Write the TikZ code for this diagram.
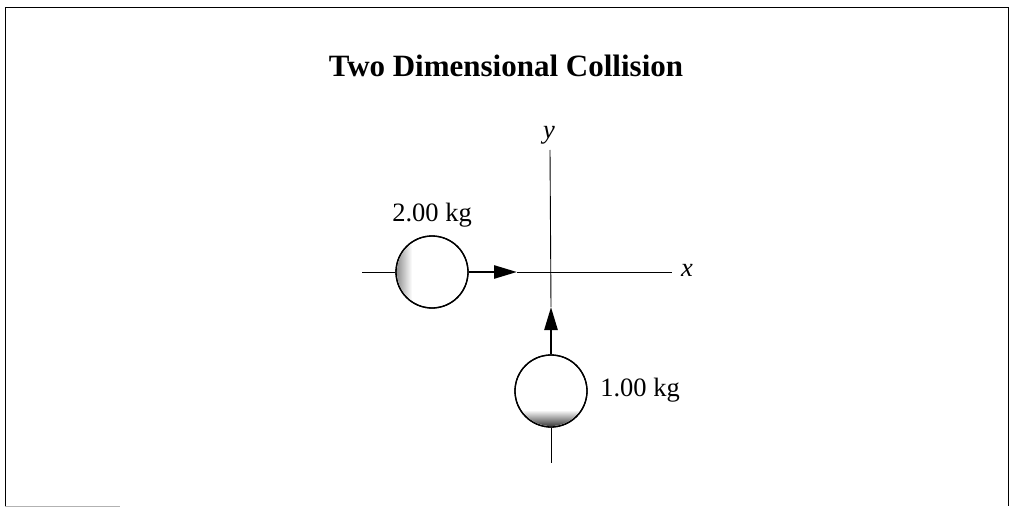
\documentclass[tikz,border=0pt]{standalone}
\usepackage{fontspec}
\setmainfont{Liberation Serif}
\usetikzlibrary{arrows.meta}
\begin{document}
\begin{tikzpicture}[x=1pt,y=-1pt,
  thin line/.style={line width=0.9pt},
  shaft/.style={line width=2.6pt},
  ball/.style={circle,draw,line width=1.3pt,minimum size=72pt,inner sep=0pt},
  lbl/.style={font=\fontsize{26.5}{28}\selectfont},
  tip/.style={-{Triangle[length=23pt,width=13pt]}}]
\useasboundingbox (0,0) rectangle (1012,508);
% frame
\draw[line width=1pt] (5,506) -- (5,8) -- (1008,8) -- (1008,506);
\draw[gray!60,line width=1pt] (5,506) -- (120,506);
% title
\node[font=\fontsize{31}{34}\selectfont\bfseries] (title) at (506,66) {Two Dimensional Collision};
% axes
\coordinate (ytop) at (550,150);
\coordinate (xright) at (672,272);
\node[font=\fontsize{26.5}{28}\selectfont\itshape] (ylab) at (549,135) {y};
\node[font=\fontsize{26.5}{28}\selectfont\itshape] (xlab) at (687,270) {x};
% balls
\node[ball] (b1) at (432,272) {};
\node[ball] (b2) at (551,391) {};
\begin{scope}
  \clip (b1.center) circle (35pt);
  \shade[left color=gray!85, right color=white] (397,245) rectangle (412,299);
\end{scope}
\begin{scope}
  \clip (b2.center) circle (35pt);
  \shade[top color=white, bottom color=black!85] (515,410) rectangle (587,428);
\end{scope}
\node[ball] at (b1) {};
\node[ball] at (b2) {};
\node[lbl] (m1) at (432,215) {2.00 kg};
\node[lbl] (m2) at (640,390) {1.00 kg};
% lines
\coordinate (l1) at (362,272);
\coordinate (l2) at (551,463);
\coordinate (tip1) at (517,272);
\coordinate (tip2) at (551,307);
\draw[thin line] (l1) -- (b1.west);
\draw[thin line] (b2.south) -- (l2);
\draw[thin line] (tip1) -- (xright);
\draw[thin line] (ytop) -- (tip2);
\draw[shaft,tip] (b1.east) -- (tip1);
\draw[shaft,tip] (b2.north) -- (tip2);
\end{tikzpicture}
\end{document}
